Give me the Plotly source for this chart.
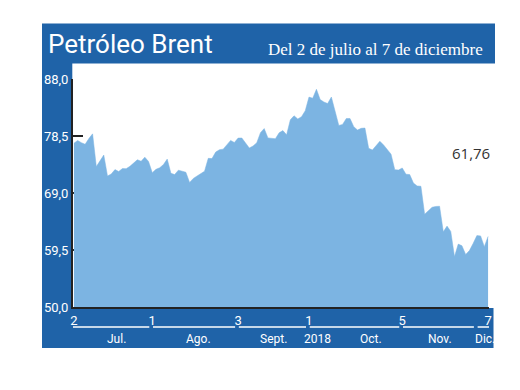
import pandas as pd
import plotly.graph_objects as go

# ---- data -------------------------------------------------------------
missing = ['2018-07-04', '2018-09-21', '2018-12-05']
dates = [d.strftime('%Y-%m-%d') for d in pd.bdate_range('2018-07-02', '2018-12-07')
         if d.strftime('%Y-%m-%d') not in missing]

jul = [77.30, 77.76, 77.39, 77.11, 78.07, 78.86, 73.40, 74.45, 75.33, 71.84, 72.16,
       72.90, 72.58, 73.07, 73.06, 73.44, 73.93, 74.54, 74.29, 74.97, 74.25]
ago = [72.39, 72.95, 73.21, 73.75, 74.65, 72.28, 72.07, 72.81, 72.61, 72.46, 70.76,
       71.43, 71.83, 72.21, 72.63, 74.78, 74.73, 75.82, 76.21, 76.31, 77.14, 77.77, 77.42]
sep = [78.15, 78.17, 77.27, 76.50, 76.83, 77.37, 79.06, 79.74, 78.18, 78.09, 78.05,
       79.03, 79.40, 78.70, 81.20, 81.87, 81.34, 81.72, 82.72]
octu = [84.98, 84.80, 86.29, 84.58, 84.16, 83.91, 85.00, 82.60, 80.26, 80.43, 81.41,
        81.41, 80.05, 79.50, 79.78, 79.83, 76.44, 76.17, 76.89, 77.62, 77.00, 76.31, 75.47]
nov = [72.89, 72.83, 73.17, 72.13, 72.07, 70.65, 70.18, 70.12, 65.47, 66.12, 66.62,
       66.76, 66.79, 62.53, 63.48, 62.60, 58.40, 60.48, 60.21, 58.76, 59.40, 60.60]
dic = [61.90, 61.85, 60.06, 61.76]
prices = jul + ago + sep + octu + nov + dic

tick_dates = ['2018-07-02', '2018-08-01', '2018-09-03', '2018-10-01', '2018-11-05', '2018-12-07']
tick_text = ['2', '1', '3', '1', '5', '7']
seg_starts = ['2018-07-02', '2018-08-01', '2018-09-03', '2018-10-01', '2018-11-05', '2018-12-03']
month_labels = ['Jul.', 'Ago.', 'Sept.', '2018', 'Oct.', 'Nov.', 'Dic.']
y_ticks = [50.0, 59.5, 69.0, 78.5, 88.0]

title = 'Petróleo Brent'
subtitle = 'Del 2 de julio al 7 de diciembre'

# ---- styling / layout ---------------------------------------------------
BLUE = '#1f63a8'
FILL = '#7cb4e2'
SANS = 'Roboto, Lato, sans-serif'
OFF = 8                      # page body margin
W, H = 504, 374              # figure size (page 520x390 minus body margins)
L, R, T, B = 73, 489, 79, 307  # plot area in page pixels


def px(xp):
    return (xp - L) / (R - L)


def py(yp):
    return (B - yp) / (B - T)


fig = go.Figure()
fig.add_trace(go.Scatter(
    x=dates, y=prices, mode='lines', fill='tozeroy',
    fillcolor=FILL, line=dict(color=FILL, width=0.5), hoverinfo='x+y',
    showlegend=False))

shapes = []
# header band
shapes.append(dict(type='rect', xref='paper', yref='paper', x0=px(42), x1=px(495),
                   y0=py(63.5), y1=py(23.5), fillcolor=BLUE, line=dict(width=0), layer='below'))
# left strip
shapes.append(dict(type='rect', xref='paper', yref='paper', x0=px(42), x1=px(72.3),
                   y0=py(348), y1=py(63), fillcolor=BLUE, line=dict(width=0), layer='below'))
# bottom band
shapes.append(dict(type='rect', xref='paper', yref='paper', x0=px(42), x1=px(493.5),
                   y0=py(348), y1=py(308), fillcolor=BLUE, line=dict(width=0), layer='below'))
# month segment lines
idx = [dates.index(d) for d in seg_starts]
ends = idx[1:] + [len(dates) + 0.6]
for i, (a, b) in enumerate(zip(idx, ends)):
    x0 = a - 0.3 if i == 0 else a + 0.2
    x1 = b - 0.8 if i < len(idx) - 1 else b
    shapes.append(dict(type='line', xref='x', yref='paper', x0=x0, x1=x1,
                       y0=py(327), y1=py(327), line=dict(color='white', width=1.5)))

annotations = [
    dict(text=title, x=px(46), y=py(43.5), xref='paper', yref='paper', xanchor='left',
         yanchor='middle', showarrow=False, font=dict(family=SANS, size=26, color='white')),
    dict(text=subtitle, x=px(485), y=py(49), xref='paper', yref='paper', xanchor='right',
         yanchor='middle', showarrow=False,
         font=dict(family='Liberation Serif, DejaVu Serif, serif', size=17, color='white')),
    dict(text=f"{prices[-1]:.2f}".replace('.', ','), x=px(471), y=py(153), xref='paper',
         yref='paper', xanchor='center', yanchor='middle', showarrow=False,
         font=dict(family='Open Sans, sans-serif', size=15, color='#333333')),
]
label_px = [116, 198, 273.5, 317, 371, 440, 485]
for lab, xp in zip(month_labels, label_px):
    annotations.append(dict(text=lab, x=px(xp), y=py(338.5), xref='paper', yref='paper',
                            xanchor='center', yanchor='middle', showarrow=False,
                            font=dict(family=SANS, size=12, color='white')))

fig.update_layout(
    width=W, height=H,
    margin=dict(l=L - OFF, r=W - (R - OFF), t=T - OFF, b=H - (B - OFF), autoexpand=False),
    paper_bgcolor='white', plot_bgcolor='white',
    separators=', ',
    shapes=shapes, annotations=annotations,
    xaxis=dict(type='category', range=[-0.25, len(dates) - 0.75], tickvals=tick_dates,
               ticktext=tick_text, showgrid=False, zeroline=False, showline=True,
               linecolor='#222222', linewidth=2, ticks='',
               tickfont=dict(family=SANS, size=13, color='white')),
    yaxis=dict(range=[50, 88], tickvals=y_ticks, tickformat='.1f', showgrid=False,
               zeroline=False, showline=True, linecolor='#222222', linewidth=2,
               ticks='inside', ticklen=10, tickwidth=2, tickcolor='#222222',
               layer='below traces',
               tickfont=dict(family=SANS, size=13, color='white')),
)

fig.write_html('out.html')
